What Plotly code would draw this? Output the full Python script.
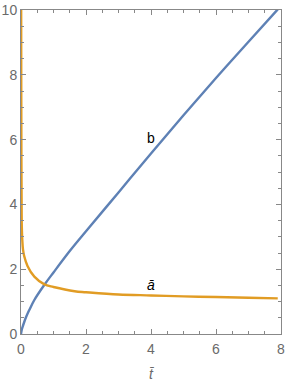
import plotly.graph_objects as go

# Data
t_b = [0, 0.02, 0.05, 0.1, 0.16, 0.25, 0.41, 0.72, 1.0, 1.5, 2, 3, 4, 5, 6, 7, 7.9]
b_vals = [0, 0.12, 0.22, 0.37, 0.53, 0.73, 1.05, 1.52, 1.9, 2.56, 3.17, 4.37, 5.57, 6.75, 7.9, 9.02, 10.02]

t_a = [0.005, 0.008, 0.012, 0.018, 0.025, 0.04, 0.06, 0.1, 0.2, 0.41, 0.72, 1.0, 1.65, 2, 3, 4, 5, 6, 7, 7.9]
a_vals = [10.0, 7.5, 5.5, 4.2, 3.3, 2.9, 2.62, 2.4, 2.1, 1.77, 1.53, 1.45, 1.32, 1.29, 1.22, 1.19, 1.16, 1.14, 1.12, 1.10]

x_ticks = [0, 2, 4, 6, 8]
y_ticks = [0, 2, 4, 6, 8, 10]

labels = ["b", "<i>ā</i>"]
label_t = [4.0, 4.0]
label_y = [5.99, 1.47]

blue = "#5E81B5"
orange = "#E19C24"
axis_col = "#888888"
tick_font = dict(family="Liberation Sans, Arial, sans-serif", size=14, color="#6a6a6a")

fig = go.Figure()
fig.add_trace(go.Scatter(x=t_b, y=b_vals, mode="lines", line=dict(color=blue, width=2.4, shape="spline", smoothing=1.0), showlegend=False, hoverinfo="skip"))
fig.add_trace(go.Scatter(x=t_a, y=a_vals, mode="lines", line=dict(color=orange, width=2.4, shape="spline", smoothing=1.0), showlegend=False, hoverinfo="skip"))
fig.add_trace(go.Scatter(x=label_t, y=label_y, mode="text", text=labels,
                         textfont=dict(family="Liberation Sans, Arial, sans-serif", size=14, color="#000000"),
                         showlegend=False, hoverinfo="skip"))

axis_common = dict(
    showline=True, linecolor=axis_col, linewidth=1, mirror="ticks",
    ticks="inside", ticklen=5, tickcolor=axis_col, tickwidth=1,
    showgrid=False, zeroline=False, tickfont=tick_font, automargin=False,
    minor=dict(ticks="inside", ticklen=3, tickcolor=axis_col, dtick=0.5, showgrid=False),
)

fig.update_xaxes(range=[0, 8], tickvals=x_ticks, ticktext=[str(v) for v in x_ticks], ticklabelstandoff=2,
                 title=dict(text="<i>t\u0304</i>", font=dict(family="Liberation Sans, Arial, sans-serif", size=14, color="#6a6a6a"), standoff=13),
                 **axis_common)
fig.update_yaxes(range=[0, 10], tickvals=y_ticks, ticktext=[str(v) for v in y_ticks], **axis_common)

fig.update_layout(
    width=286, height=388,
    margin=dict(l=21, r=5, t=10, b=54),
    plot_bgcolor="white", paper_bgcolor="white",
)

fig.write_html("out.html", config={"displayModeBar": False, "staticPlot": True},
               post_script="document.body.style.margin='0';document.body.style.overflow='hidden';")
